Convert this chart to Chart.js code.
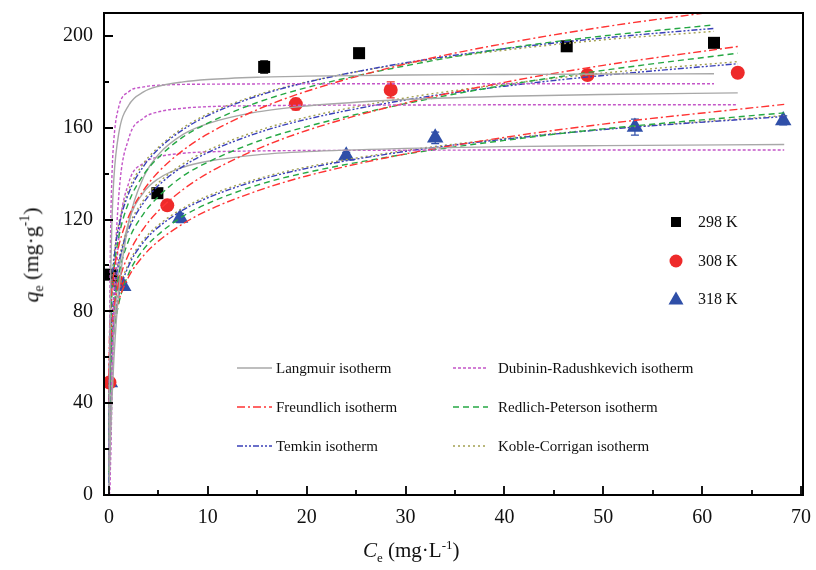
<!DOCTYPE html>
<html lang="en">
<head>
<meta charset="UTF-8">
<title>Adsorption isotherms</title>
<script src="https://cdn.jsdelivr.net/npm/chart.js"></script>
<style>
  body { margin: 0; background: #fff; }
  .wrap { position: relative; width: 816px; height: 570px; font-family: "Liberation Serif", "Times New Roman", serif; color: #111; }
  canvas { position: absolute; left: 0; top: 0; }
  .leg { position: absolute; font-size: 15px; white-space: nowrap; height: 18px; line-height: 18px; }
  .leg svg { position: absolute; left: 0; top: 0; }
  .leg span { position: absolute; top: 0; }
  .xt { position: absolute; left: 363px; top: 537px; font-size: 21px; white-space: nowrap; }
  .yt { position: absolute; left: 32px; top: 255px; font-size: 22px; white-space: nowrap;
        transform: translate(-50%, -50%) rotate(-90deg); }
  sub { font-size: 0.62em; vertical-align: -0.35em; }
  sup { font-size: 0.62em; vertical-align: 0.65em; }
</style>
</head>
<body>
<div class="wrap" id="wrap">
  <canvas id="isoChart" width="816" height="570"></canvas>
  <div class="xt"><i>C</i><sub>e</sub> (mg·L<sup>-1</sup>)</div>
  <div class="yt"><i>q</i><sub>e</sub> (mg·g<sup>-1</sup>)</div>
</div>

<script>
// experimental points (Ce in mg/L, qe in mg/g, error bar half-height)
const ce298 = [0.2, 4.9, 15.7, 25.3, 46.3, 61.2];
const qe298 = [96, 131.5, 186.5, 192.5, 195.5, 197];
const err298 = [1, 1.5, 2.7, 2, 2, 2];

const ce308 = [0.05, 0.85, 5.9, 18.9, 28.5, 48.4, 63.6];
const qe308 = [49, 93, 126.2, 170.3, 176.5, 183, 184];
const err308 = [1, 1.5, 1, 2.5, 3.5, 2, 2];

const ce318 = [0.1, 1.45, 7.2, 24.0, 33.0, 53.2, 68.2];
const qe318 = [49, 91, 120.7, 147.8, 155.6, 160.3, 163.2];
const err318 = [1, 1.5, 2, 1.5, 2.5, 3.5, 2];

// fitted curves at these Ce values
const fitX298 = [0.01, 0.05, 0.15, 0.3, 0.5, 1, 2, 3.5, 5, 7.5, 10, 15, 20, 30, 40, 50, 61.2];
const fitX308 = [0.01, 0.05, 0.15, 0.3, 0.5, 1, 2, 3.5, 5, 7.5, 10, 15, 20, 30, 40, 50, 63.6];
const fitX318 = [0.01, 0.05, 0.15, 0.3, 0.5, 1, 2, 3.5, 5, 7.5, 10, 15, 20, 30, 40, 50, 68.3];

const langmuir298   = [10.4, 42.5, 87.2, 118.3, 138, 157.7, 169.8, 175.6, 178.1, 180, 181, 182, 182.5, 183, 183.2, 183.4, 183.5];
const dr298         = [13.9, 58.9, 108.9, 138.5, 155, 169.2, 175.7, 177.8, 178.5, 178.9, 179, 179.1, 179.2, 179.2, 179.2, 179.2, 179.2];
const freundlich298 = [51.8, 67, 80, 89.5, 97.1, 108.6, 121.4, 132.8, 140.7, 150.2, 157.3, 167.9, 175.9, 187.8, 196.7, 203.9, 210.6];
const rp298         = [25, 50, 72, 87, 98, 112.5, 127.5, 139.5, 147, 156, 162, 171, 177.5, 187, 194.5, 200, 204.8];
const temkin298     = [20.2, 54, 77.1, 91.6, 102.4, 116.9, 131.5, 143.2, 150.7, 159.2, 165.3, 173.8, 179.8, 188.3, 194.4, 199.1, 203.3];
const kc298         = [30, 58, 79, 93, 104, 118.5, 133, 144.5, 151.5, 160, 166, 174.3, 180, 188, 193.8, 198.3, 202];

const langmuir308   = [1.8, 8.5, 23.2, 41.1, 59.3, 89, 118.7, 138.4, 148.3, 157.1, 161.8, 166.9, 169.5, 172.3, 173.7, 174.5, 175.2];
const dr308         = [0, 1, 17.4, 52.1, 87.5, 130.6, 155.3, 164.2, 166.9, 168.5, 169.2, 169.6, 169.8, 169.9, 170, 170, 170];
const freundlich308 = [40.5, 54.1, 65.9, 74.7, 81.9, 92.7, 105, 116.1, 123.8, 133.1, 140.2, 150.7, 158.8, 170.8, 179.8, 187.2, 195.4];
const rp308         = [10, 35, 57, 71, 81.5, 96, 111, 122.5, 130, 139, 145, 154, 160.5, 170.5, 178.5, 185, 192.5];
const temkin308     = [5.2, 38.7, 61.6, 76.1, 86.7, 101.2, 115.7, 127.3, 134.8, 143.2, 149.2, 157.7, 163.7, 172.1, 178.1, 182.8, 187.9];
const kc308         = [15, 42, 63.5, 77.5, 88, 102.5, 117, 128.5, 136, 144.3, 150.2, 158.6, 164.6, 173, 179, 183.8, 188.8];

const langmuir318   = [2.6, 12.1, 31.3, 52, 70.8, 97, 119, 131.8, 137.8, 142.8, 145.4, 148.2, 149.6, 151, 151.8, 152.2, 152.7];
const dr318         = [0, 0.5, 12, 40.5, 72, 112.1, 136, 144.6, 147.3, 148.9, 149.5, 149.9, 150.1, 150.2, 150.3, 150.3, 150.3];
const freundlich318 = [39.7, 51.7, 62, 69.5, 75.6, 84.8, 95.1, 104.3, 110.6, 118.2, 124, 132.5, 139, 148.6, 155.8, 161.6, 170.2];
const rp318         = [5, 28, 48, 61, 70.5, 83.5, 96.5, 107, 113.5, 121.5, 127, 135, 140.5, 148.5, 154.5, 159.5, 166.5];
const temkin318     = [2.3, 31.9, 52.2, 64.9, 74.3, 87.1, 99.9, 110.2, 116.7, 124.2, 129.5, 137, 142.3, 149.7, 155, 159.2, 164.9];
const kc318         = [8, 34, 53.5, 66, 75.5, 88.3, 101, 111.2, 117.6, 125, 130.3, 137.7, 142.9, 150.1, 155.3, 159.4, 165.3];

const xTicks = [0, 10, 20, 30, 40, 50, 60, 70];
const yTicks = [0, 40, 80, 120, 160, 200];
const tempLabels = ['298 K', '308 K', '318 K'];
const modelNames = ['Langmuir isotherm', 'Dubinin-Radushkevich isotherm', 'Freundlich isotherm',
                    'Redlich-Peterson isotherm', 'Temkin isotherm', 'Koble-Corrigan isotherm'];

// styles for each model (same order as modelNames)
const modelStyle = [
    { color: '#a8a8a8', dash: [] },
    { color: '#c456c8', dash: [3, 2] },
    { color: '#ff3333', dash: [8, 3, 2, 3] },
    { color: '#26a844', dash: [6, 4] },
    { color: '#3a40b8', dash: [6, 2, 2, 2, 2, 2] },
    { color: '#a3a050', dash: [2, 3] }
];

const fits = [
    { xs: fitX298, curves: [langmuir298, dr298, freundlich298, rp298, temkin298, kc298] },
    { xs: fitX308, curves: [langmuir308, dr308, freundlich308, rp308, temkin308, kc308] },
    { xs: fitX318, curves: [langmuir318, dr318, freundlich318, rp318, temkin318, kc318] }
];

const pts = [
    { xs: ce298, ys: qe298, err: err298, style: 'rect', color: '#000000', r: 8.5 },
    { xs: ce308, ys: qe308, err: err308, style: 'circle', color: '#ee2a2a', r: 7 },
    { xs: ce318, ys: qe318, err: err318, style: 'triangle', color: '#2f4fa8', r: 9.5 }
];

const datasets = [];
pts.forEach((p, i) => {
    datasets.push({
        label: tempLabels[i],
        data: p.xs.map((x, j) => ({ x: x, y: p.ys[j] })),
        errors: p.err,
        showLine: false,
        pointStyle: p.style,
        pointRadius: p.r,
        backgroundColor: p.color,
        borderColor: p.color,
        borderWidth: 0,
        order: 2
    });
});
fits.forEach(f => {
    f.curves.forEach((c, m) => {
        datasets.push({
            label: modelNames[m],
            data: f.xs.map((x, j) => ({ x: x, y: c[j] })),
            showLine: true,
            pointRadius: 0,
            borderColor: modelStyle[m].color,
            borderDash: modelStyle[m].dash,
            borderWidth: 1.4,
            cubicInterpolationMode: 'monotone',
            fill: false,
            order: 1
        });
    });
});

// error bars drawn under the markers
const errorBars = {
    id: 'errorBars',
    beforeDatasetsDraw(chart) {
        const { ctx, scales: { x, y } } = chart;
        ctx.save();
        chart.data.datasets.forEach(ds => {
            if (!ds.errors) return;
            ctx.strokeStyle = ds.borderColor;
            ctx.lineWidth = 1.2;
            ds.data.forEach((p, j) => {
                const px = x.getPixelForValue(p.x);
                const t = y.getPixelForValue(p.y + ds.errors[j]);
                const b = y.getPixelForValue(p.y - ds.errors[j]);
                ctx.beginPath();
                ctx.moveTo(px, t); ctx.lineTo(px, b);
                ctx.moveTo(px - 4, t); ctx.lineTo(px + 4, t);
                ctx.moveTo(px - 4, b); ctx.lineTo(px + 4, b);
                ctx.stroke();
            });
        });
        ctx.restore();
    }
};

// box frame plus inward major/minor ticks
const frameTicks = {
    id: 'frameTicks',
    afterDraw(chart) {
        const { ctx, chartArea: a, scales: { x, y } } = chart;
        ctx.save();
        ctx.strokeStyle = '#000';
        ctx.lineWidth = 2;
        ctx.strokeRect(a.left, a.top, a.right - a.left, a.bottom - a.top);
        ctx.lineWidth = 1.8;
        ctx.beginPath();
        for (let v = 0; v <= 70; v += 5) {
            const px = Math.round(x.getPixelForValue(v));
            const len = v % 10 === 0 ? 9 : 5;
            ctx.moveTo(px, a.bottom); ctx.lineTo(px, a.bottom - len);
        }
        for (let v = 0; v <= 200; v += 20) {
            const py = Math.round(y.getPixelForValue(v));
            const len = v % 40 === 0 ? 9 : 5;
            ctx.moveTo(a.left, py); ctx.lineTo(a.left + len, py);
        }
        ctx.stroke();
        ctx.restore();
    }
};

const tickFont = { family: "'Liberation Serif', 'Times New Roman', serif", size: 20 };

new Chart(document.getElementById('isoChart').getContext('2d'), {
    type: 'scatter',
    data: { datasets: datasets },
    options: {
        responsive: false,
        animation: false,
        events: [],
        layout: { padding: { top: 13, right: 13, left: 0, bottom: 0 } },
        plugins: { legend: { display: false }, tooltip: { enabled: false } },
        scales: {
            x: {
                type: 'linear',
                min: -0.5,
                max: 70.2,
                grid: { display: false, drawTicks: false },
                border: { display: false },
                afterBuildTicks: s => { s.ticks = xTicks.map(v => ({ value: v })); },
                afterFit: s => { s.height = 75; s.paddingLeft = 0; s.paddingRight = 0; },
                ticks: { font: tickFont, color: '#111', padding: 11, maxRotation: 0 }
            },
            y: {
                type: 'linear',
                min: 0,
                max: 210,
                grid: { display: false, drawTicks: false },
                border: { display: false },
                afterBuildTicks: s => { s.ticks = yTicks.map(v => ({ value: v })); },
                afterFit: s => { s.width = 104; s.paddingTop = 0; s.paddingBottom = 0; },
                ticks: { font: tickFont, color: '#111', padding: 11 }
            }
        }
    },
    plugins: [errorBars, frameTicks]
});

// legends as real text over the canvas
const wrap = document.getElementById('wrap');
const rowY = [368, 407, 446];
const colLine = [237, 453];
const colText = [276, 498];
modelNames.forEach((name, i) => {
    const col = i % 2, row = Math.floor(i / 2);
    const d = document.createElement('div');
    d.className = 'leg';
    d.style.left = colLine[col] + 'px';
    d.style.top = (rowY[row] - 9) + 'px';
    const st = modelStyle[i];
    d.innerHTML = '<svg width="36" height="18"><line x1="0" y1="9" x2="35" y2="9" stroke="' + st.color +
        '" stroke-width="1.4" stroke-dasharray="' + (st.dash.length ? st.dash.join(',') : 'none') + '"/></svg>' +
        '<span style="left:' + (colText[col] - colLine[col]) + 'px">' + name + '</span>';
    wrap.appendChild(d);
});

const tempY = [222, 261, 299];
const markerSvg = [
    '<rect x="4" y="4" width="10" height="10" fill="#000"/>',
    '<circle cx="9" cy="9" r="6.5" fill="#ee2a2a"/>',
    '<polygon points="9,1.5 16.5,14.5 1.5,14.5" fill="#2f4fa8"/>'
];
tempLabels.forEach((t, i) => {
    const d = document.createElement('div');
    d.className = 'leg';
    d.style.left = '667px';
    d.style.top = (tempY[i] - 9) + 'px';
    d.style.fontSize = '16px';
    d.innerHTML = '<svg width="18" height="18">' + markerSvg[i] + '</svg><span style="left:31px">' + t + '</span>';
    wrap.appendChild(d);
});
</script>
</body>
</html>
